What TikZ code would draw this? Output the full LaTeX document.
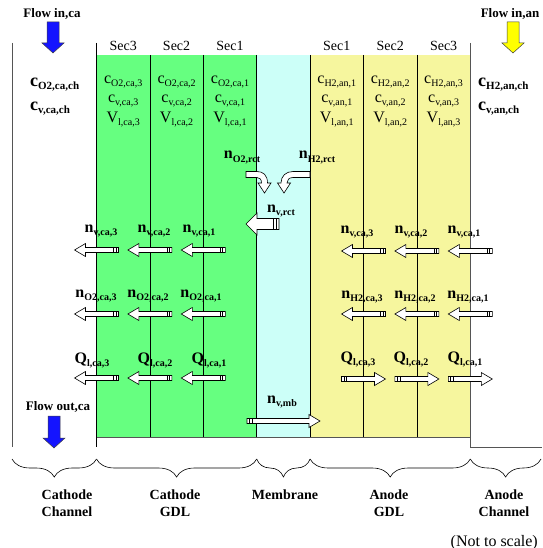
\documentclass[tikz,border=0pt]{standalone}
\usepackage{fontspec}
\setmainfont{Liberation Serif}
\usetikzlibrary{decorations.pathreplacing}
\definecolor{gdlgreen}{RGB}{102,255,128}
\definecolor{membcyan}{RGB}{204,255,248}
\definecolor{gdlyellow}{RGB}{246,246,158}
\definecolor{edgegray}{RGB}{85,85,85}
\definecolor{flowblue}{RGB}{20,20,255}
\definecolor{flowyellow}{RGB}{255,255,0}

% symbol with lowered subscript
\newcommand{\qsub}[3][10]{#2\raisebox{-3pt}{\fontsize{#1}{#1}\selectfont #3}}
% hollow flux arrow: x, y, direction (1 right, -1 left), half length
\newcommand{\fluxarrow}[4]{%
  \begin{scope}[shift={(#1,#2)}, xscale=#3]
    \draw[fluxbody] (-#4,-2.5) -- (#4-11,-2.5) -- (#4-11,-6.5) -- (#4,0) -- (#4-11,6.5) -- (#4-11,2.5) -- (-#4,2.5) -- cycle;
    \draw[tailbar] (-#4+2.5,-2.5) -- (-#4+2.5,2.5) (-#4+5,-2.5) -- (-#4+5,2.5);
  \end{scope}}
% block arrow pointing down: x, top, tip, fill
\newcommand{\downarrowblk}[4]{%
  \filldraw[flowbody, fill=#4] (#1-6,#2) -- (#1+6,#2) -- (#1+6,#3-10) -- (#1+11,#3-10) -- (#1,#3) -- (#1-11,#3-10) -- (#1-6,#3-10) -- cycle;}

\begin{document}
\begin{tikzpicture}[x=1pt, y=-1pt]
  \tikzset{
    chline/.style={draw=edgegray, line width=0.9pt},
    divider/.style={draw=black, line width=0.7pt},
    fluxbody/.style={draw=black, fill=white, line width=0.6pt},
    tailbar/.style={draw=black, line width=0.8pt},
    flowbody/.style={draw=black!75, line width=0.5pt},
    seclbl/.style={anchor=base, inner sep=0pt, font=\fontsize{14}{14}\selectfont},
    stacklbl/.style={anchor=base, inner sep=0pt, align=center, font=\fontsize{16}{19.5}\selectfont},
    fluxlbl/.style={anchor=base, inner sep=0pt, font=\bfseries\fontsize{16}{16}\selectfont},
    chanlbl/.style={anchor=base west, inner sep=0pt, align=left, font=\bfseries\fontsize{18}{24}\selectfont},
    headlbl/.style={anchor=base, inner sep=0pt, font=\bfseries\fontsize{13}{13}\selectfont},
    bracelbl/.style={anchor=base, inner sep=0pt, align=center, font=\bfseries\fontsize{14}{17.5}\selectfont},
    regionbrace/.style={decorate, decoration={brace, mirror, amplitude=18pt}, line width=0.6pt}
  }
  \useasboundingbox (0,0) rectangle (542,548);

  % Regions
  \fill[gdlgreen] (96.5,55) rectangle (256.7,437);
  \fill[membcyan] (256.7,55) rectangle (310.1,437);
  \fill[gdlyellow] (310.1,55) rectangle (470.3,437);

  \draw[divider] (149.9,55) -- (149.9,437);
  \draw[divider] (203.3,55) -- (203.3,437);
  \draw[divider] (256.7,55) -- (256.7,437);
  \draw[divider] (310.1,55) -- (310.1,437);
  \draw[divider] (363.5,55) -- (363.5,437);
  \draw[divider] (416.9,55) -- (416.9,437);

  % Channel walls
  \draw[chline] (12,43) -- (12,447);
  \draw[divider] (96.5,43) -- (96.5,447);
  \draw[chline] (470.3,43) -- (470.3,447) -- (542,447);
  \draw[chline] (96.5,437) -- (470.3,437);

  % Flow in / out
  \downarrowblk{53}{22}{53}{flowblue}
  \downarrowblk{513}{22}{53}{flowyellow}
  \downarrowblk{54}{416}{448}{flowblue}
  \node[headlbl] (flowinca) at (52,18) {Flow in,ca};
  \node[headlbl] (flowinan) at (510,18) {Flow in,an};
  \node[headlbl] (flowoutca) at (58,410) {Flow out,ca};

  % Sections
  \node[seclbl] (secca3) at (123.2,51) {Sec3};
  \node[seclbl] (secca2) at (176.6,51) {Sec2};
  \node[seclbl] (secca1) at (230.0,51) {Sec1};
  \node[seclbl] (secan1) at (336.8,51) {Sec1};
  \node[seclbl] (secan2) at (390.2,51) {Sec2};
  \node[seclbl] (secan3) at (443.6,51) {Sec3};

  \node[stacklbl] (stackca3) at (123.2,122.5) {\qsub{c}{O2,ca,3}\\\qsub{c}{v,ca,3}\\\qsub{V}{l,ca,3}};
  \node[stacklbl] (stackca2) at (176.6,122.5) {\qsub{c}{O2,ca,2}\\\qsub{c}{v,ca,2}\\\qsub{V}{l,ca,2}};
  \node[stacklbl] (stackca1) at (230.0,122.5) {\qsub{c}{O2,ca,1}\\\qsub{c}{v,ca,1}\\\qsub{V}{l,ca,1}};
  \node[stacklbl] (stackan1) at (336.8,122.5) {\qsub{c}{H2,an,1}\\\qsub{c}{v,an,1}\\\qsub{V}{l,an,1}};
  \node[stacklbl] (stackan2) at (390.2,122.5) {\qsub{c}{H2,an,2}\\\qsub{c}{v,an,2}\\\qsub{V}{l,an,2}};
  \node[stacklbl] (stackan3) at (443.6,122.5) {\qsub{c}{H2,an,3}\\\qsub{c}{v,an,3}\\\qsub{V}{l,an,3}};

  \node[chanlbl] (chanca) at (30,111) {\qsub[11]{c}{O2,ca,ch}\\\qsub[11]{c}{v,ca,ch}};
  \node[chanlbl] (chanan) at (478,111) {\qsub[11]{c}{H2,an,ch}\\\qsub[11]{c}{v,an,ch}};

  % Membrane reactions
  \node[fluxlbl] (no2rct) at (242,159) {\qsub{n}{O2,rct}};
  \node[fluxlbl] (nh2rct) at (317,159) {\qsub{n}{H2,rct}};
  \draw[fluxbody] (246,171.5) -- (257,171.5) .. controls (263,171.5) and (267.5,175) .. (267.5,183) -- (271,183) -- (264.5,193) -- (258,183) -- (261.5,183) .. controls (261.5,179.5) and (260,177.5) .. (257,177.5) -- (246,177.5) -- cycle;
  \draw[fluxbody] (310,171.5) -- (293,171.5) .. controls (286,171.5) and (281,176) .. (281,183) -- (277.5,183) -- (284,193) -- (290.5,183) -- (287,183) .. controls (287,180) and (289,177.5) .. (293,177.5) -- (310,177.5) -- cycle;
  \node[fluxlbl] (nvrct) at (281,212) {\qsub{n}{v,rct}};
  \draw[fluxbody] (279,218.5) -- (257,218.5) -- (257,213) -- (246,224) -- (257,235) -- (257,229.5) -- (279,229.5) -- cycle;
  \draw[tailbar, line width=1.2pt] (273.5,218.5) -- (273.5,229.5) (276.5,218.5) -- (276.5,229.5);
  \node[fluxlbl] (nvmb) at (282,403) {\qsub{n}{v,mb}};
  \fluxarrow{283.5}{421}{1}{36.5}

  % Cathode GDL fluxes
  \node[fluxlbl] (nvca3) at (101,232) {\qsub{n}{v,ca,3}};
  \node[fluxlbl] (nvca2) at (154,232) {\qsub{n}{v,ca,2}};
  \node[fluxlbl] (nvca1) at (199,232) {\qsub{n}{v,ca,1}};
  \fluxarrow{96.5}{250}{-1}{22}
  \fluxarrow{149.9}{250}{-1}{22}
  \fluxarrow{203.3}{250}{-1}{22}

  \node[fluxlbl] (no2ca3) at (96,297) {\qsub{n}{O2,ca,3}};
  \node[fluxlbl] (no2ca2) at (148,297) {\qsub{n}{O2,ca,2}};
  \node[fluxlbl] (no2ca1) at (201,297) {\qsub{n}{O2,ca,1}};
  \fluxarrow{96.5}{314}{-1}{22}
  \fluxarrow{149.9}{314}{-1}{22}
  \fluxarrow{203.3}{314}{-1}{22}

  \node[fluxlbl] (qlca3) at (92,363) {\qsub{Q}{l,ca,3}};
  \node[fluxlbl] (qlca2) at (155,363) {\qsub{Q}{l,ca,2}};
  \node[fluxlbl] (qlca1) at (209,363) {\qsub{Q}{l,ca,1}};
  \fluxarrow{96.5}{378}{-1}{22}
  \fluxarrow{149.9}{378}{-1}{22}
  \fluxarrow{203.3}{378}{-1}{22}

  % Anode GDL fluxes
  \node[fluxlbl] (nvan3) at (357,233) {\qsub{n}{v,ca,3}};
  \node[fluxlbl] (nvan2) at (411,233) {\qsub{n}{v,ca,2}};
  \node[fluxlbl] (nvan1) at (464,233) {\qsub{n}{v,ca,1}};
  \fluxarrow{363.5}{251}{-1}{22}
  \fluxarrow{416.9}{251}{-1}{22}
  \fluxarrow{470.3}{251}{-1}{22}

  \node[fluxlbl] (nh2an3) at (362,298) {\qsub{n}{H2,ca,3}};
  \node[fluxlbl] (nh2an2) at (415,298) {\qsub{n}{H2,ca,2}};
  \node[fluxlbl] (nh2an1) at (468,298) {\qsub{n}{H2,ca,1}};
  \fluxarrow{363.5}{314}{-1}{22}
  \fluxarrow{416.9}{314}{-1}{22}
  \fluxarrow{470.3}{314}{-1}{22}

  \node[fluxlbl] (qlan3) at (358,362) {\qsub{Q}{l,ca,3}};
  \node[fluxlbl] (qlan2) at (411,362) {\qsub{Q}{l,ca,2}};
  \node[fluxlbl] (qlan1) at (465,362) {\qsub{Q}{l,ca,1}};
  \fluxarrow{363.5}{379}{1}{22}
  \fluxarrow{416.9}{379}{1}{22}
  \fluxarrow{470.3}{379}{1}{22}

  % Braces and region names
  \draw[regionbrace] (12,459) -- (96.5,459);
  \draw[regionbrace] (96.5,459) -- (256.7,459);
  \draw[regionbrace] (256.7,459) -- (310.1,459);
  \draw[regionbrace] (310.1,459) -- (470.3,459);
  \draw[regionbrace] (470.3,459) -- (541,459);

  \node[bracelbl] (lblcach) at (67,516.5) {Cathode\\Channel};
  \node[bracelbl] (lblcagdl) at (175,516.5) {Cathode\\GDL};
  \node[bracelbl] (lblmemb) at (285,499) {Membrane};
  \node[bracelbl] (lblangdl) at (389,516.5) {Anode\\GDL};
  \node[bracelbl] (lblanch) at (504,516.5) {Anode\\Channel};
  \node[anchor=base east, inner sep=0pt, font=\fontsize{16}{16}\selectfont] (notscale) at (538,546) {(Not to scale)};
\end{tikzpicture}
\end{document}
